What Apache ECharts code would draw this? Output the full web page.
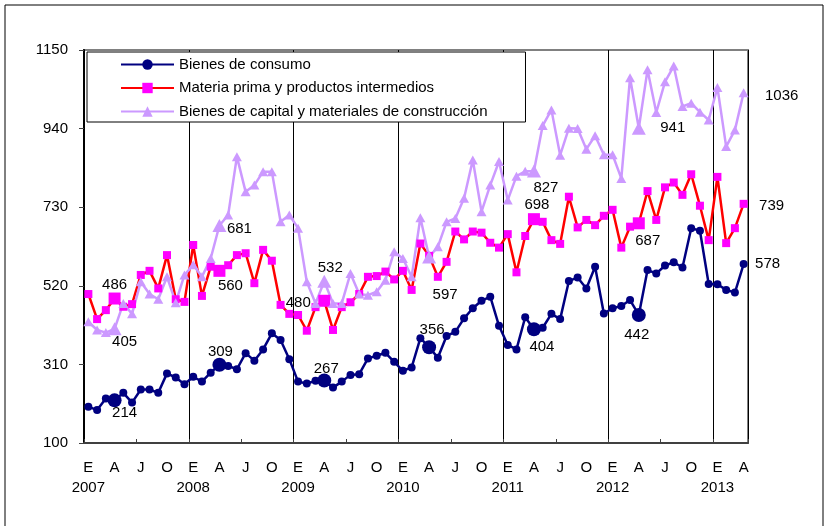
<!DOCTYPE html>
<html><head><meta charset="utf-8">
<script src="https://cdn.jsdelivr.net/npm/echarts@6/dist/echarts.min.js"></script>
<style>html,body{margin:0;padding:0;background:#fff}#c{width:827px;height:526px}</style>
</head><body><div id="c"></div>
<script>
// ---------- data ----------
const years = [2007, 2008, 2009, 2010, 2011, 2012, 2013];
const monthLetters = ['E','F','M','A','M','J','J','A','S','O','N','D'];
const yTicks = [100, 310, 520, 730, 940, 1150];
const seriesNames = ['Bienes de consumo', 'Materia prima y productos intermedios', 'Bienes de capital y materiales de construcción'];

const bienesConsumo = [197,188,219,214,234,208,243,243,234,286,275,257,
  277,264,288,309,306,297,340,320,350,393,375,324,
  264,259,266,267,248,264,282,284,326,333,341,317,
  293,302,380,356,328,386,397,433,460,480,491,413,
  362,350,436,404,408,445,431,533,542,513,571,446,
  460,466,482,442,562,553,574,583,569,674,667,525,
  524,509,502,578];
const materiaPrima = [498,431,455,486,464,471,549,560,513,602,484,477,
  629,493,571,560,575,602,607,527,616,587,469,445,
  442,400,463,480,402,463,476,498,544,546,558,537,
  560,509,633,600,544,584,665,644,665,662,635,622,
  658,556,653,698,691,642,632,758,676,696,682,707,
  723,622,678,687,773,696,783,796,763,818,734,642,
  811,634,674,739];
const bienesCapital = [424,402,395,405,473,445,531,498,484,544,475,549,
  576,544,593,681,709,865,771,789,825,825,691,709,
  674,531,473,532,473,473,553,498,495,504,535,611,
  593,544,702,597,624,691,700,754,856,718,789,852,
  749,813,826,827,948,990,869,941,940,885,921,870,
  870,807,1076,941,1097,983,1065,1107,999,1008,984,963,
  1050,892,936,1036];

// ---------- style (label offsets / highlighted points) ----------
const labelOffsets = [
  {3:[10,13], 15:[1,-13], 27:[2,-12], 39:[3,-17], 51:[8,18], 63:[-2,20], 75:[24,0]},
  {3:[0,-14], 15:[11,15], 27:[-26,2], 51:[3,-14], 63:[9,18], 75:[28,2]},
  {3:[10,13], 15:[20,3], 27:[6,-13], 39:[16,38], 51:[12,17], 63:[34,0], 75:[38,3]}
];
const bigPoints = [[3,15,27,39,51,63],[3,15,27,51,63],[3,15,27,39,51,63]];

const categories = [];
const n = bienesConsumo.length;
for (let i = 0; i < n; i++) {
  categories.push(years[Math.floor(i/12)] + '-' + (i%12 + 1));
}

const FONT = "'Liberation Sans', Arial, sans-serif";
const baseSize = [8, 8, [10, 9]];
const bigSize = [14, 12, [14, 13]];

function build(values, k) {
  return values.map((v, i) => {
    const item = {value: v};
    if (bigPoints[k].includes(i)) item.symbolSize = bigSize[k];
    const off = labelOffsets[k][i];
    if (off) {
      item.label = {show: true, position: 'inside', offset: off, formatter: '{c}',
        color: '#000', fontSize: 15, fontFamily: FONT};
    }
    return item;
  });
}

const colors = [
  {line: '#000080', item: '#000080', symbol: 'circle'},
  {line: '#ff0000', item: '#ff00ff', symbol: 'rect'},
  {line: '#cc99ff', item: '#cc99ff', symbol: 'triangle'}
];
const allValues = [bienesConsumo, materiaPrima, bienesCapital];

const chart = echarts.init(document.getElementById('c'), null, {renderer: 'canvas'});
chart.setOption({
  animation: false,
  backgroundColor: '#fff',
  textStyle: {fontFamily: FONT},
  graphic: [{
    type: 'rect', shape: {x: 5, y: 5, width: 818, height: 540},
    style: {fill: 'none', stroke: '#000', lineWidth: 1}, z: -1
  }],
  grid: {left: 84, right: 79, top: 50, bottom: 83, show: true,
    borderColor: '#808080', borderWidth: 2, backgroundColor: 'transparent'},
  legend: {
    orient: 'vertical', left: 87, top: 52,
    itemWidth: 53, itemHeight: 13, itemGap: 8.5,
    padding: [5, 38, 3, 33],
    backgroundColor: '#fff', borderColor: '#000', borderWidth: 1,
    textStyle: {fontSize: 15, fontFamily: FONT, color: '#000'},
    data: seriesNames
  },
  xAxis: {
    type: 'category', data: categories, boundaryGap: true,
    axisLine: {lineStyle: {color: '#404040', width: 2}},
    axisTick: {show: true, inside: true, length: 4, interval: (i) => i % 6 === 0,
      lineStyle: {color: '#404040', width: 1}},
    splitLine: {show: true, interval: (i) => i % 12 === 0 && i > 0,
      lineStyle: {color: '#000', width: 1}},
    axisLabel: {
      interval: (i) => i % 3 === 0,
      margin: 15, lineHeight: 20, fontSize: 15, color: '#000', fontFamily: FONT,
      formatter: (val, i) => {
        const m = monthLetters[i % 12];
        return (i % 12 === 0) ? m + '\n' + years[Math.floor(i/12)] : m;
      }
    }
  },
  yAxis: {
    type: 'value', min: 100, max: 1150,
    axisLine: {show: true, lineStyle: {color: '#000', width: 2}},
    axisTick: {show: true, length: 5, customValues: yTicks, lineStyle: {color: '#404040'}},
    axisLabel: {customValues: yTicks, margin: 16, fontSize: 15, color: '#000', fontFamily: FONT,
      formatter: (v) => String(Math.round(v))},
    splitLine: {show: false}
  },
  series: allValues.map((vals, k) => ({
    name: seriesNames[k], type: 'line',
    symbol: colors[k].symbol, symbolSize: baseSize[k], showAllSymbol: true,
    lineStyle: {color: colors[k].line, width: 2.5},
    itemStyle: {color: colors[k].item, borderWidth: 0},
    emphasis: {disabled: true},
    data: build(vals, k)
  }))
});
</script></body></html>
